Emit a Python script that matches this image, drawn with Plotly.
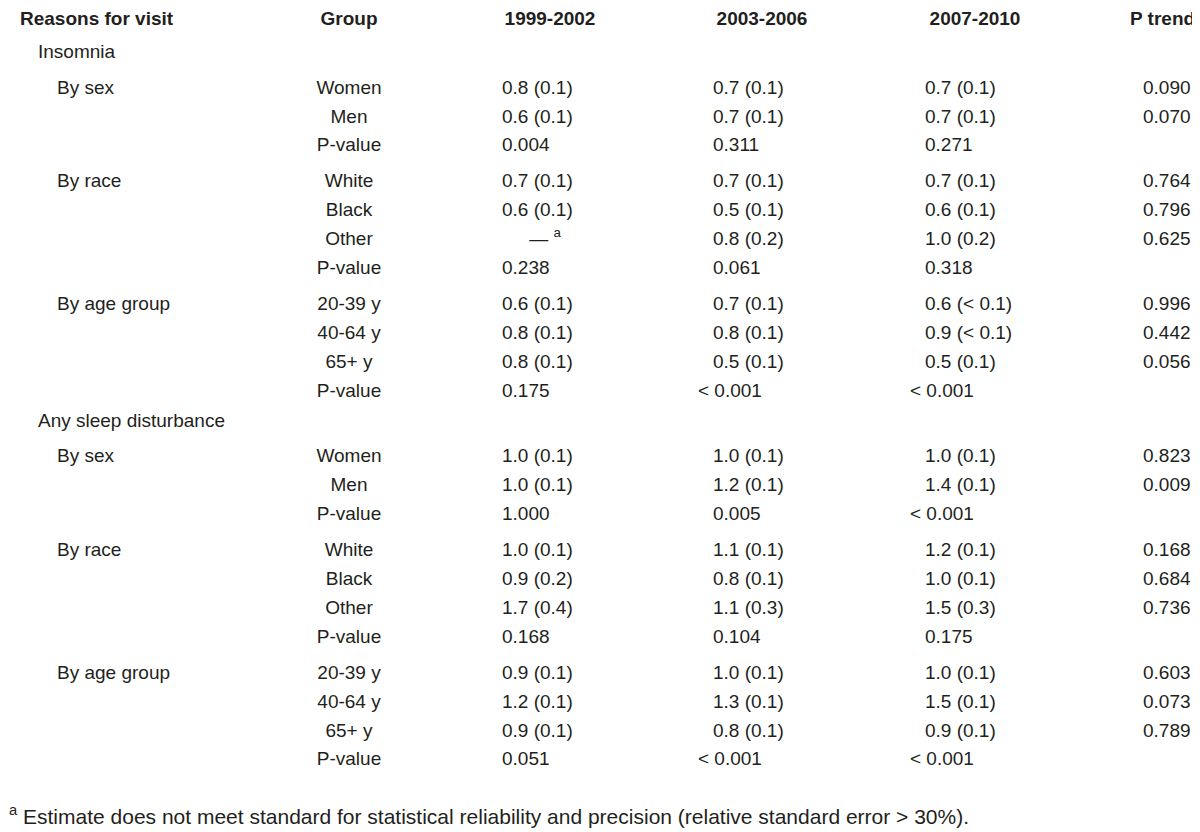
import plotly.graph_objects as go

# table contents, one entry per row
labels = ["Insomnia",
          "By sex", "", "",
          "By race", "", "", "",
          "By age group", "", "", "",
          "Any sleep disturbance",
          "By sex", "", "",
          "By race", "", "", "",
          "By age group", "", "", ""]
levels = [1, 2, 2, 2, 2, 2, 2, 2, 2, 2, 2, 2,
          1, 2, 2, 2, 2, 2, 2, 2, 2, 2, 2, 2]
groups = ["",
          "Women", "Men", "P-value",
          "White", "Black", "Other", "P-value",
          "20-39 y", "40-64 y", "65+ y", "P-value",
          "",
          "Women", "Men", "P-value",
          "White", "Black", "Other", "P-value",
          "20-39 y", "40-64 y", "65+ y", "P-value"]
p1999 = ["",
         "0.8 (0.1)", "0.6 (0.1)", "0.004",
         "0.7 (0.1)", "0.6 (0.1)", "\u2014 <sup>a</sup>", "0.238",
         "0.6 (0.1)", "0.8 (0.1)", "0.8 (0.1)", "0.175",
         "",
         "1.0 (0.1)", "1.0 (0.1)", "1.000",
         "1.0 (0.1)", "0.9 (0.2)", "1.7 (0.4)", "0.168",
         "0.9 (0.1)", "1.2 (0.1)", "0.9 (0.1)", "0.051"]
p2003 = ["",
         "0.7 (0.1)", "0.7 (0.1)", "0.311",
         "0.7 (0.1)", "0.5 (0.1)", "0.8 (0.2)", "0.061",
         "0.7 (0.1)", "0.8 (0.1)", "0.5 (0.1)", "< 0.001",
         "",
         "1.0 (0.1)", "1.2 (0.1)", "0.005",
         "1.1 (0.1)", "0.8 (0.1)", "1.1 (0.3)", "0.104",
         "1.0 (0.1)", "1.3 (0.1)", "0.8 (0.1)", "< 0.001"]
p2007 = ["",
         "0.7 (0.1)", "0.7 (0.1)", "0.271",
         "0.7 (0.1)", "0.6 (0.1)", "1.0 (0.2)", "0.318",
         "0.6 (< 0.1)", "0.9 (< 0.1)", "0.5 (0.1)", "< 0.001",
         "",
         "1.0 (0.1)", "1.4 (0.1)", "< 0.001",
         "1.2 (0.1)", "1.0 (0.1)", "1.5 (0.3)", "0.175",
         "1.0 (0.1)", "1.5 (0.1)", "0.9 (0.1)", "< 0.001"]
ptrend = ["",
          "0.090", "0.070", "",
          "0.764", "0.796", "0.625", "",
          "0.996", "0.442", "0.056", "",
          "",
          "0.823", "0.009", "",
          "0.168", "0.684", "0.736", "",
          "0.603", "0.073", "0.789", ""]
headers = ["Reasons for visit", "Group", "1999-2002", "2003-2006", "2007-2010", "P trend"]
footnote = "<sup>a</sup> Estimate does not meet standard for statistical reliability and precision (relative standard error > 30%)."

font_name = "Liberation Sans, Arial, sans-serif"
ink = "#231f20"
fsize = 19

# vertical position of each row: fixed step, a bit more space when a new block starts
ys = []
y = 45
for i, lab in enumerate(labels):
    if i > 0:
        y += 28.9
        if lab != "":
            y += 7 if levels[i] == 2 else 1
    ys.append(y)


def column(vals, x_left, x_mid, pos="middle right"):
    # one text trace per column, empty cells left out
    xs, yy, tt, pp = [], [], [], []
    for v, yv in zip(vals, ys):
        if v == "":
            continue
        if v.startswith("\u2014"):
            xs.append(x_mid); pp.append("middle center")
        elif v.startswith("<"):
            xs.append(x_left - 15); pp.append(pos)
        else:
            xs.append(x_left); pp.append(pos)
        yy.append(yv)
        tt.append(v)
    return go.Scatter(x=xs, y=yy, text=tt, mode="text", textposition=pp, cliponaxis=False,
                      textfont=dict(family=font_name, size=fsize, color=ink), hoverinfo="skip")


fig = go.Figure()

# first column, indented by level
lab_x = {1: 30, 2: 49}
fig.add_trace(go.Scatter(x=[lab_x[l] for l, t in zip(levels, labels) if t],
                         y=[yv for yv, t in zip(ys, labels) if t],
                         text=[t for t in labels if t],
                         mode="text", textposition="middle right", cliponaxis=False,
                         textfont=dict(family=font_name, size=fsize, color=ink), hoverinfo="skip"))
fig.add_trace(column(groups, 341, 341, pos="middle center"))
fig.add_trace(column(p1999, 494, 537))
fig.add_trace(column(p2003, 705, 748))
fig.add_trace(column(p2007, 917, 960))
fig.add_trace(column(ptrend, 1135, 1165))

# header row
fig.add_trace(go.Scatter(x=[12, 341, 542, 754, 967, 1122], y=[12] * 6,
                         text=["<b>%s</b>" % h for h in headers],
                         mode="text", cliponaxis=False,
                         textposition=["middle right", "middle center", "middle center",
                                       "middle center", "middle center", "middle right"],
                         textfont=dict(family=font_name, size=fsize, color=ink), hoverinfo="skip"))

# footnote under the table
fig.add_annotation(text=footnote, xref="paper", yref="y", x=0, y=807, xanchor="left",
                   yanchor="middle", showarrow=False, borderpad=0,
                   font=dict(family=font_name, size=21, color=ink))

fig.update_xaxes(range=[0, 1200], visible=False, fixedrange=True)
fig.update_yaxes(range=[832, 0], visible=False, fixedrange=True)
fig.update_layout(width=1200, height=832, margin=dict(l=0, r=0, t=0, b=0),
                  plot_bgcolor="white", paper_bgcolor="white", showlegend=False)
fig.write_html("out.html")
